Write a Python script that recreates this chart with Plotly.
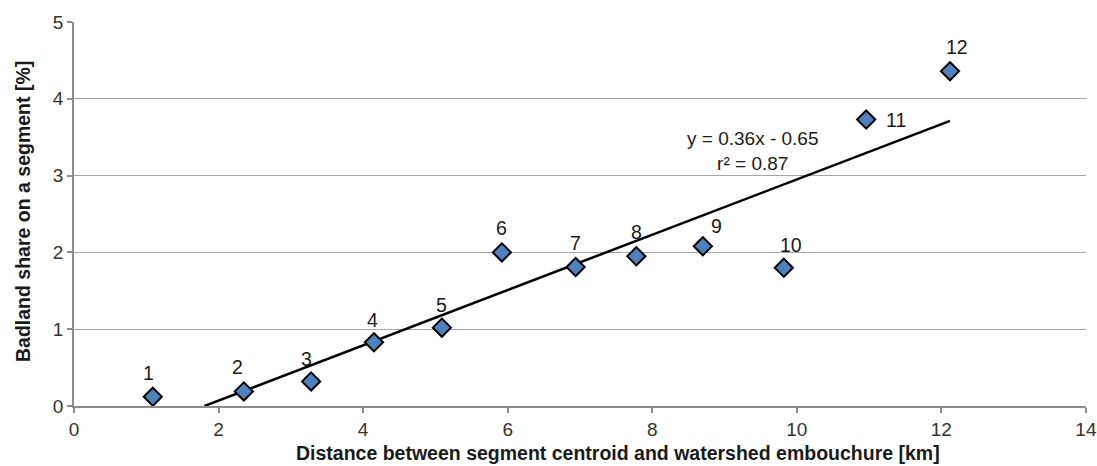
import plotly.graph_objects as go

# Data
segment_ids = ["1", "2", "3", "4", "5", "6", "7", "8", "9", "10", "11", "12"]
distance_km = [1.09, 2.35, 3.28, 4.15, 5.09, 5.92, 6.94, 7.78, 8.70, 9.82, 10.96, 12.12]
badland_share = [0.12, 0.19, 0.32, 0.83, 1.02, 2.00, 1.81, 1.95, 2.08, 1.80, 3.73, 4.36]
slope = 0.36
intercept = -0.65
r2 = 0.87
x_ticks = [0, 2, 4, 6, 8, 10, 12, 14]
y_ticks = [0, 1, 2, 3, 4, 5]
x_title = "Distance between segment centroid and watershed embouchure [km]"
y_title = "Badland share on a segment [%]"

# label offsets (styling, pixels)
label_dx = [-4, -6, -5, -1, 0, 0, 0, 0, 14, 7, 30, 7]
label_dy = [24, 24, 22, 22, 23, 24, 24, 24, 20, 23, 0, 24]

FONT = "Liberation Sans, Arial"
L, R, T, B = 74, 11, 22, 60
W, H = 1097, 466
plot_w = W - L - R
plot_h = H - T - B

x_start = -intercept / slope
x_end = max(distance_km)

fig = go.Figure()
fig.add_trace(go.Scatter(
    x=[x_start, x_end], y=[slope * x_start + intercept, slope * x_end + intercept],
    mode="lines", line=dict(color="black", width=2.5), showlegend=False, hoverinfo="skip"))
fig.add_trace(go.Scatter(
    x=distance_km, y=badland_share, mode="markers",
    marker=dict(symbol="diamond", size=14, color="#4F81BD",
                line=dict(color="black", width=2)),
    showlegend=False))

for sid, x, y, dx, dy in zip(segment_ids, distance_km, badland_share, label_dx, label_dy):
    fig.add_annotation(x=x, y=y, text=sid, showarrow=False, xshift=dx, yshift=dy,
                       font=dict(family=FONT, size=19.5, color="#1a1a1a"))

fig.add_annotation(x=9.39, y=3.32, text=f"y = {slope}x - {abs(intercept)}<br>r² = {r2}",
                   showarrow=False, xanchor="center", yanchor="middle",
                   font=dict(family=FONT, size=19, color="#1a1a1a"))

fig.add_annotation(x=(618 - L) / plot_w, y=(H - B - 453) / plot_h, xref="paper", yref="paper",
                   showarrow=False, yanchor="middle", xanchor="center",
                   text=f"<b>{x_title}</b>",
                   font=dict(family=FONT, size=19.5, color="#1a1a1a"))
fig.add_annotation(x=(23 - L) / plot_w, y=(H - B - 212) / plot_h, xref="paper", yref="paper",
                   showarrow=False, yanchor="middle", xanchor="center", textangle=-90,
                   text=f"<b>{y_title}</b>",
                   font=dict(family=FONT, size=19.5, color="#1a1a1a"))

fig.update_layout(
    width=W, height=H,
    margin=dict(l=L, r=R, t=T, b=B, autoexpand=False),
    paper_bgcolor="white", plot_bgcolor="white",
    font=dict(family=FONT, size=19, color="#333333"),
    xaxis=dict(range=[0, 14.001], tickvals=x_ticks, showgrid=False, zeroline=False,
               automargin=False,
               showline=True, linecolor="#8c8c8c", linewidth=1.5,
               ticks="outside", ticklen=5, tickcolor="#8c8c8c", tickwidth=1.5,
               tickfont=dict(size=19, color="#333333")),
    yaxis=dict(range=[0, 5], tickvals=y_ticks, showgrid=True, gridcolor="#a6a6a6", gridwidth=1.3,
               automargin=False,
               zeroline=False, showline=True, linecolor="#8c8c8c", linewidth=1.5,
               ticks="outside", ticklen=5, tickcolor="#8c8c8c", tickwidth=1.5,
               tickfont=dict(size=19, color="#333333")),
)

fig.write_html("out.html")
